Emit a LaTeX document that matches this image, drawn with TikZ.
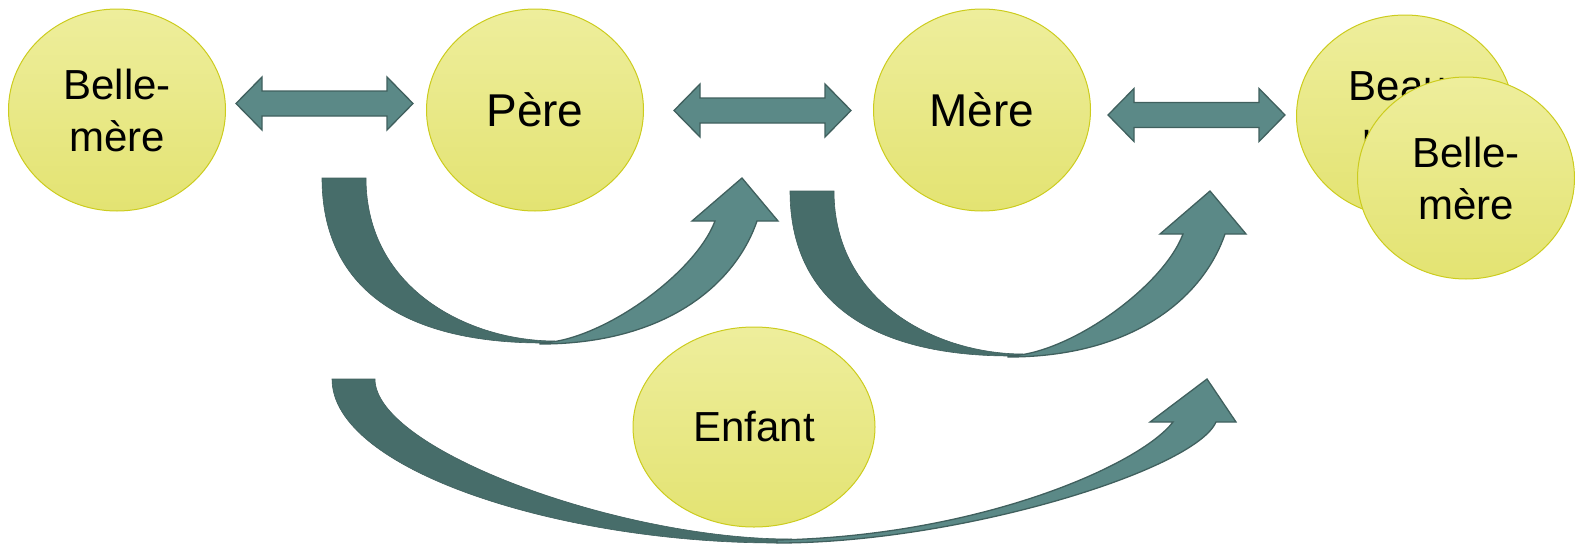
\documentclass[tikz,border=0pt]{standalone}
\usepackage{fontspec}
\setmainfont{Liberation Sans}
\usetikzlibrary{shapes.geometric}
\definecolor{arrL}{HTML}{5B8987}
\definecolor{arrD}{HTML}{476D6A}
\definecolor{arrE}{HTML}{40605E}
\definecolor{circT}{HTML}{EEEE9C}
\definecolor{circB}{HTML}{E3E372}
\definecolor{circE}{HTML}{CCCC1E}
\tikzset{
  person/.style={ellipse, draw=circE, line width=1pt, top color=circT, bottom color=circB,
    minimum width=217pt, minimum height=202pt, inner sep=0pt, align=center,
    font=\fontsize{42}{52}\selectfont},
  bigtext/.style={font=\fontsize{46}{52}\selectfont},
  arrlight/.style={fill=arrL, draw=arrE, line width=1.3pt, line join=miter},
  arrdark/.style={fill=arrD, draw=arrE, line width=0.6pt},
}
\newcommand\dblarr[3]{%
  \draw[arrlight] (#1,#3) -- (#1+26,#3-26.5) -- (#1+26,#3-12.5) -- (#2-26,#3-12.5)
    -- (#2-26,#3-26.5) -- (#2,#3) -- (#2-26,#3+26.5) -- (#2-26,#3+12.5)
    -- (#1+26,#3+12.5) -- (#1+26,#3+26.5) -- cycle;}
\newcommand\smallcurve{%
  \draw[arrdark] (322,178) -- (366,178) .. controls (366,290) and (470,341) .. (555,341)
    -- (543,343) .. controls (399,343) and (322,285) .. (322,178) -- cycle;
  \draw[arrlight] (540,344) .. controls (665,344) and (735,285) .. (757,221)
    -- (778,221) -- (742,178) -- (692,221) -- (715,221)
    .. controls (695,274) and (600,342) .. (540,343) -- cycle;}
\begin{document}
\begin{tikzpicture}[x=1pt,y=-1pt]
\useasboundingbox (0,0) rectangle (1575,544);
% people
\node[person] (bm1) at (117,110) {Belle-\\mère};
\node[person, bigtext] (pere) at (535,110) {Père};
\node[person, bigtext] (mere) at (982,110) {Mère};
\node[person] (bp) at (1405,116) {Beau-\\père};
\node[person] (bm2) at (1466,178) {Belle-\\mère};
\node[person, minimum width=242pt, minimum height=200pt] (enf) at (754,427) {Enfant};
% double arrows
\dblarr{236}{413}{103.5}
\dblarr{674}{851}{110.5}
\dblarr{1108}{1285}{115}
% curved arrows
\smallcurve
\begin{scope}[shift={(468,13)}]
\smallcurve
\end{scope}
\draw[arrdark] (332,379) -- (375,379) .. controls (375,450) and (620,539) .. (790,539)
  -- (777,543) .. controls (560,543) and (332,470) .. (332,379) -- cycle;
\draw[arrlight] (777,543) .. controls (960,543) and (1195,470) .. (1216,422)
  -- (1236,422) -- (1207,379) -- (1150,422) -- (1173,422)
  .. controls (1140,465) and (980,536) .. (777,540) -- cycle;
\end{tikzpicture}
\end{document}
